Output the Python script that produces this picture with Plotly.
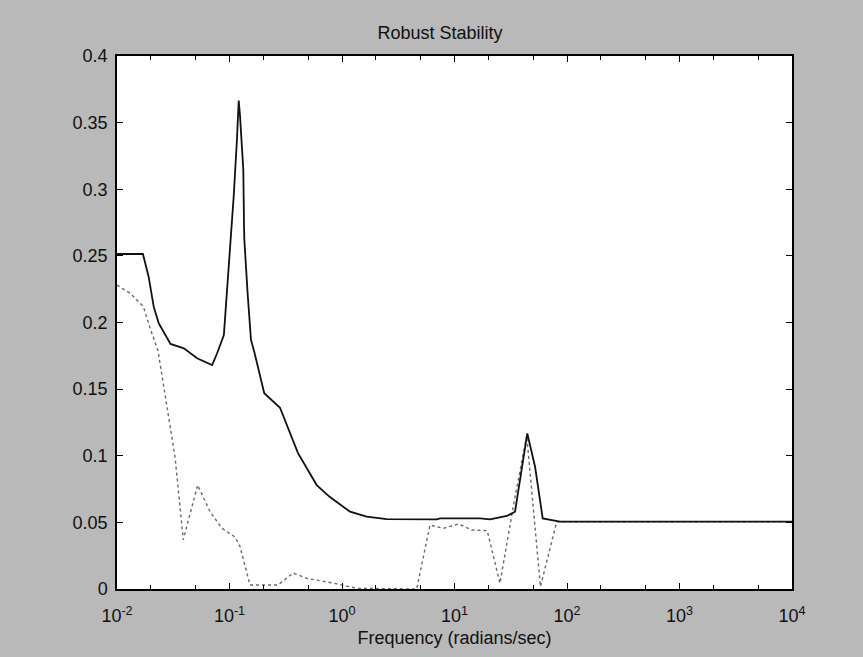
import plotly.graph_objects as go

# Upper bound of mu (solid) and lower bound (dotted) vs frequency, rad/s
upper_freq = [0.0100, 0.0170, 0.0191, 0.0212, 0.0235, 0.0299, 0.0393, 0.0515,
              0.0701, 0.0776, 0.0891, 0.0940, 0.0986, 0.1035, 0.1089, 0.1164,
              0.1197, 0.1208, 0.1239, 0.1327, 0.1346, 0.1355, 0.1449, 0.1552,
              0.1660, 0.2037, 0.2812, 0.4064, 0.5957, 0.7816, 1.178, 1.660,
              2.495, 6.950, 7.430, 16.87, 20.70, 29.17, 34.51, 37.76, 44.36,
              52.00, 60.81, 86.70, 10000.0]
upper_mu = [0.2514, 0.2514, 0.2344, 0.2119, 0.1994, 0.1839, 0.1806, 0.1731,
            0.1681, 0.1769, 0.1906, 0.2169, 0.2419, 0.2620, 0.2944, 0.3370,
            0.3557, 0.3665, 0.3557, 0.3145, 0.2720, 0.2620, 0.2219, 0.1869,
            0.1780, 0.1469, 0.1360, 0.1020, 0.0780, 0.0690, 0.0580, 0.0543,
            0.0525, 0.0523, 0.0530, 0.0530, 0.0523, 0.0548, 0.0580, 0.0790,
            0.1168, 0.0918, 0.0530, 0.0505, 0.0505]

lower_freq = [0.0100, 0.01306, 0.01714, 0.01963, 0.02312, 0.02838, 0.03281,
              0.03882, 0.05212, 0.06714, 0.08531, 0.1119, 0.1239, 0.1521,
              0.2698, 0.3690, 0.4853, 0.8318, 1.178, 1.352, 4.613, 6.053,
              7.943, 10.81, 14.22, 19.54, 25.35, 34.12, 43.85, 58.08, 81.10,
              92.04, 10000.0]
lower_mu = [0.228, 0.222, 0.212, 0.196, 0.179, 0.132, 0.099, 0.037, 0.078,
            0.058, 0.0457, 0.039, 0.032, 0.003, 0.003, 0.012, 0.008, 0.0045,
            0.002, 0.0005, 0.0, 0.048, 0.0455, 0.0488, 0.0443, 0.0438, 0.0043,
            0.067, 0.115, 0.0018, 0.0505, 0.0505, 0.0505]

x_tickvals = [1e-2, 1e-1, 1e0, 1e1, 1e2, 1e3, 1e4]
x_ticktext = ["10<sup>-2</sup>", "10<sup>-1</sup>", "10<sup>0</sup>", "10<sup>1</sup>",
              "10<sup>2</sup>", "10<sup>3</sup>", "10<sup>4</sup>"]
y_tickvals = [0, 0.05, 0.1, 0.15, 0.2, 0.25, 0.3, 0.35, 0.4]
y_ticktext = ["0", "0.05", "0.1", "0.15", "0.2", "0.25", "0.3", "0.35", "0.4"]

font_family = "Liberation Sans, Arial, sans-serif"
text_color = "#101010"

fig = go.Figure()
fig.add_trace(go.Scatter(x=lower_freq, y=lower_mu, mode="lines",
                         line=dict(color="#6a6a6a", width=1.4, dash="dot"),
                         showlegend=False))
fig.add_trace(go.Scatter(x=upper_freq, y=upper_mu, mode="lines",
                         line=dict(color="#111111", width=1.8),
                         showlegend=False))

axis_common = dict(showline=True, linecolor="black", linewidth=1.5, mirror="ticks",
                   ticks="inside", tickcolor="black", showgrid=False, zeroline=False,
                   tickfont=dict(family=font_family, size=18, color=text_color))

fig.update_xaxes(type="log", range=[-2, 4], tickvals=x_tickvals, ticktext=x_ticktext,
                 ticklen=6, ticklabelstandoff=10,
                 minor=dict(ticks="inside", ticklen=4, tickcolor="black",
                            showgrid=False),
                 title=dict(text="Frequency (radians/sec)", standoff=6,
                            font=dict(family=font_family, size=18, color=text_color)),
                 **axis_common)
fig.update_yaxes(range=[0, 0.4], tickvals=y_tickvals, ticktext=y_ticktext,
                 ticklen=6, ticklabelstandoff=4, **axis_common)

fig.update_layout(
    width=863, height=657,
    margin=dict(l=117, r=71, t=56, b=68),
    paper_bgcolor="#b9b9b9",
    plot_bgcolor="white",
    title=dict(text="Robust Stability", x=440 / 863, xanchor="center",
               y=1 - 33 / 657, yanchor="middle",
               font=dict(family=font_family, size=18, color=text_color)),
)

fig.write_html("out.html")
